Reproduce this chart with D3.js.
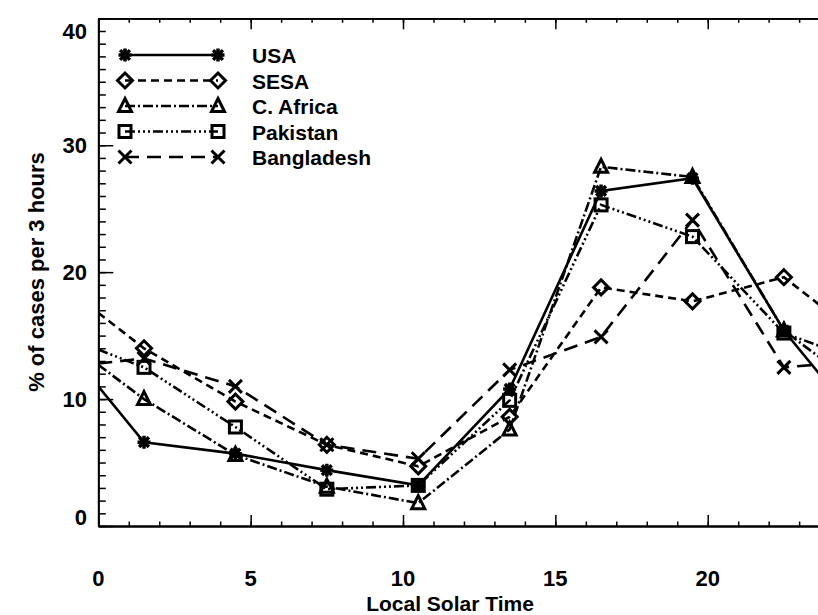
<!DOCTYPE html>
<html>
<head>
<meta charset="utf-8">
<script src="https://cdn.jsdelivr.net/npm/d3@7"></script>
<style>
  body { margin: 0; background: #fff; }
  text { font-family: "Liberation Sans", Arial, sans-serif; font-weight: bold; fill: #000; }
</style>
</head>
<body>
<script>
// values (local solar time, 3-hour bins)
const hours = [1.5, 4.5, 7.5, 10.5, 13.5, 16.5, 19.5, 22.5];
const usa = [6.6, 5.7, 4.4, 3.2, 10.8, 26.4, 27.4, 15.4];
const sesa = [14.0, 9.8, 6.4, 4.7, 8.6, 18.8, 17.7, 19.6];
const cAfrica = [10.0, 5.6, 3.1, 1.8, 7.6, 28.3, 27.5, 15.4];
const pakistan = [12.5, 7.8, 2.9, 3.2, 9.9, 25.3, 22.8, 15.2];
const bangladesh = [13.2, 11.0, 6.4, 5.3, 12.3, 14.9, 24.1, 12.5];
// where each line meets the left (0 h) and right (24 h) edge
const edgeValues = [11.0, 16.8, 12.7, 13.9, 12.8];
const names = ["USA", "SESA", "C. Africa", "Pakistan", "Bangladesh"];
const xTicks = [0, 5, 10, 15, 20];
const yTicks = [0, 10, 20, 30, 40];

const width = 818;
const height = 615;

const svg = d3.select("body").append("svg")
  .attr("width", width)
  .attr("height", height);

const x = d3.scaleLinear().domain([0, 24]).range([98.3, 829.6]);
const y = d3.scaleLinear().domain([0, 40]).range([526, 18.3]);

const series = [usa, sesa, cAfrica, pakistan, bangladesh];
const dashes = [null, "8,5", "10,3,2,3", "10,3,2,3,2,3,2,3", "14,8"];
const markers = ["asterisk", "diamond", "triangle", "square", "cross"];

// axes: major and minor ticks pointing inwards
const axisG = svg.append("g");
axisG.append("g").attr("transform", `translate(0,${y(0)})`)
  .call(d3.axisBottom(x).tickValues(d3.range(0, 25, 1)).tickSize(-4.5).tickSizeOuter(0).tickFormat(""));
axisG.append("g").attr("transform", `translate(0,${y(0)})`)
  .call(d3.axisBottom(x).tickValues(d3.range(0, 25, 5)).tickSize(-11).tickSizeOuter(0).tickFormat(""));
axisG.append("g").attr("transform", `translate(0,${y(40)})`)
  .call(d3.axisTop(x).tickValues(d3.range(0, 25, 1)).tickSize(-4.5).tickSizeOuter(0).tickFormat(""));
axisG.append("g").attr("transform", `translate(0,${y(40)})`)
  .call(d3.axisTop(x).tickValues(d3.range(0, 25, 5)).tickSize(-11).tickSizeOuter(0).tickFormat(""));
axisG.append("g").attr("transform", `translate(${x(0)},0)`)
  .call(d3.axisLeft(y).tickValues(d3.range(0, 41, 1)).tickSize(-7.5).tickSizeOuter(0).tickFormat(""));
axisG.append("g").attr("transform", `translate(${x(0)},0)`)
  .call(d3.axisLeft(y).tickValues(d3.range(0, 41, 10)).tickSize(-15).tickSizeOuter(0).tickFormat(""));
axisG.selectAll("line").attr("stroke", "#000").attr("stroke-width", 1.5);
axisG.selectAll("path.domain").attr("stroke", "#000").attr("stroke-width", 1.8);

// tick labels
svg.append("g").selectAll("text")
  .data(xTicks)
  .join("text")
  .attr("x", (d) => x(d))
  .attr("y", 586)
  .attr("text-anchor", "middle")
  .attr("font-size", "22px")
  .text((d) => d);

svg.append("g").selectAll("text")
  .data(yTicks)
  .join("text")
  .attr("x", 87)
  .attr("y", (d) => Math.max(y(40) + 21, Math.min(y(d) + 8, y(0) - 1)))
  .attr("text-anchor", "end")
  .attr("font-size", "22px")
  .text((d) => d);

svg.append("text")
  .attr("x", 450)
  .attr("y", 611)
  .attr("text-anchor", "middle")
  .attr("font-size", "21px")
  .text("Local Solar Time");

svg.append("text")
  .attr("transform", "translate(44,272) rotate(-90)")
  .attr("text-anchor", "middle")
  .attr("font-size", "22px")
  .text("% of cases per 3 hours");

// marker shapes
function drawMarker(g, type, cx, cy) {
  const r = 6.5;
  const m = g.append("g").attr("transform", `translate(${cx},${cy})`)
    .attr("fill", "none").attr("stroke", "#000").attr("stroke-width", 3);
  if (type === "asterisk") {
    m.append("path").attr("d", `M${-r},0H${r}M0,${-r}V${r}M${-r * 0.75},${-r * 0.75}L${r * 0.75},${r * 0.75}M${-r * 0.75},${r * 0.75}L${r * 0.75},${-r * 0.75}`)
      .attr("stroke-width", 3.5);
  } else if (type === "diamond") {
    const d = r + 1;
    m.append("path").attr("d", `M0,${-d}L${d},0L0,${d}L${-d},0Z`);
  } else if (type === "triangle") {
    m.append("path").attr("d", `M0,${-r - 1}L${r},${r - 1}L${-r},${r - 1}Z`);
  } else if (type === "square") {
    m.append("rect").attr("x", -r + 0.5).attr("y", -r + 0.5).attr("width", 2 * r - 1).attr("height", 2 * r - 1);
  } else if (type === "cross") {
    m.append("path").attr("d", `M${-r},${-r}L${r},${r}M${-r},${r}L${r},${-r}`);
  }
}

svg.append("clipPath").attr("id", "plot")
  .append("rect").attr("x", x(0)).attr("y", y(40)).attr("width", x(24) - x(0)).attr("height", y(0) - y(40));

const plot = svg.append("g").attr("clip-path", "url(#plot)");
const line = d3.line().x((d) => x(d[0])).y((d) => y(d[1]));

series.forEach((vals, i) => {
  const pts = [[0, edgeValues[i]]].concat(hours.map((h, j) => [h, vals[j]]), [[24, edgeValues[i]]]);
  plot.append("path")
    .datum(pts)
    .attr("d", line)
    .attr("fill", "none")
    .attr("stroke", "#000")
    .attr("stroke-width", 2.6)
    .attr("stroke-dasharray", dashes[i]);
});

series.forEach((vals, i) => {
  hours.forEach((h, j) => drawMarker(plot, markers[i], x(h), y(vals[j])));
});

// legend
const legend = svg.append("g");
names.forEach((name, i) => {
  const ly = 55 + i * 25.5;
  legend.append("line")
    .attr("x1", 125).attr("x2", 218).attr("y1", ly).attr("y2", ly)
    .attr("stroke", "#000").attr("stroke-width", 2.6)
    .attr("stroke-dasharray", dashes[i]);
  drawMarker(legend, markers[i], 125, ly);
  drawMarker(legend, markers[i], 218, ly);
  legend.append("text")
    .attr("x", 252)
    .attr("y", ly + 8)
    .attr("font-size", "21px")
    .text(name);
});
</script>
</body>
</html>
